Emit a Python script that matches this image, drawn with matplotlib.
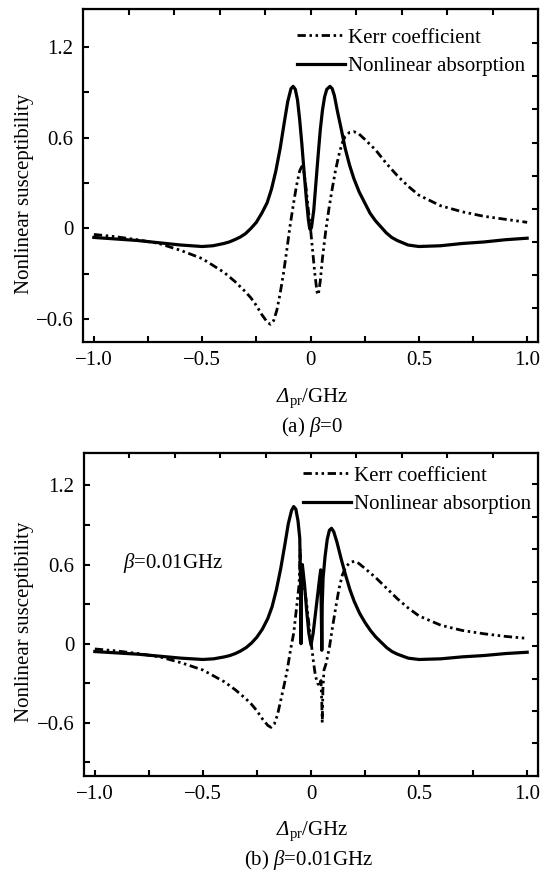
import matplotlib
matplotlib.use("Agg")
import matplotlib.pyplot as plt

plt.rcParams["font.family"] = ["Liberation Serif", "DejaVu Serif"]
plt.rcParams["mathtext.fontset"] = "custom"
plt.rcParams["mathtext.rm"] = "Liberation Serif"
plt.rcParams["mathtext.it"] = "Liberation Serif:italic"
plt.rcParams["font.size"] = 15

# panel (a): beta = 0
x_abs_a = [-1.0, -0.9, -0.8, -0.7, -0.6, -0.5, -0.45, -0.4, -0.375, -0.35, -0.325, -0.3, -0.275,
           -0.25, -0.225, -0.2, -0.18, -0.16, -0.14, -0.12, -0.105, -0.09, -0.08, -0.07,
           -0.06, -0.05, -0.04, -0.03, -0.02, -0.01, -0.004, 0.0, 0.005, 0.015, 0.025,
           0.035, 0.045, 0.055, 0.065, 0.075, 0.09, 0.1, 0.11, 0.125, 0.14, 0.16, 0.18,
           0.2, 0.225, 0.25, 0.275, 0.3, 0.325, 0.35, 0.375, 0.4, 0.45, 0.5, 0.6, 0.7,
           0.8, 0.9, 1.0]
abs_a = [-0.06, -0.07, -0.08, -0.095, -0.11, -0.12, -0.115, -0.10, -0.09, -0.075, -0.058, -0.035, 0.0,
         0.04, 0.10, 0.17, 0.26, 0.38, 0.53, 0.71, 0.84, 0.925, 0.94, 0.92,
         0.85, 0.72, 0.56, 0.38, 0.21, 0.06, 0.0, -0.01, 0.01, 0.12, 0.30,
         0.48, 0.65, 0.78, 0.87, 0.92, 0.94, 0.925, 0.88, 0.77, 0.67, 0.53, 0.42,
         0.33, 0.24, 0.17, 0.10, 0.05, 0.01, -0.03, -0.06, -0.08, -0.11, -0.12, -0.115, -0.10,
         -0.09, -0.075, -0.065]

x_kerr_a = [-1.0, -0.9, -0.8, -0.7, -0.6, -0.5, -0.4, -0.35, -0.3, -0.275, -0.25, -0.225,
            -0.2, -0.185, -0.17, -0.155, -0.14, -0.125, -0.11, -0.095, -0.08, -0.065, -0.05,
            -0.04, -0.03, -0.02, -0.01, 0.0, 0.01, 0.02, 0.03, 0.036, 0.045, 0.055, 0.07,
            0.085, 0.1, 0.115, 0.13, 0.145, 0.16, 0.18, 0.2, 0.22, 0.25, 0.275, 0.3, 0.35,
            0.4, 0.45, 0.5, 0.6, 0.7, 0.8, 0.9, 1.0]
kerr_a = [-0.04, -0.055, -0.075, -0.1, -0.145, -0.2, -0.29, -0.35, -0.42, -0.46, -0.51, -0.57,
          -0.62, -0.635, -0.61, -0.54, -0.43, -0.30, -0.15, 0.01, 0.15, 0.28, 0.38,
          0.41, 0.37, 0.26, 0.12, 0.0, -0.15, -0.30, -0.42, -0.44, -0.35, -0.20, -0.02,
          0.13, 0.26, 0.38, 0.48, 0.56, 0.61, 0.635, 0.64, 0.63, 0.59, 0.555, 0.52, 0.43,
          0.35, 0.28, 0.22, 0.15, 0.11, 0.08, 0.06, 0.04]

# panel (b): beta = 0.01 GHz
x_abs_b = [-1.0, -0.9, -0.8, -0.7, -0.6, -0.5, -0.45, -0.4, -0.375, -0.35, -0.325, -0.3, -0.275,
           -0.25, -0.225, -0.2, -0.18, -0.16, -0.14, -0.12, -0.105, -0.09, -0.08, -0.07,
           -0.06, -0.052, -0.048, -0.046, -0.044, -0.04, -0.03, -0.02, -0.01, 0.0, 0.01,
           0.02, 0.03, 0.04, 0.045, 0.048, 0.05, 0.052, 0.056, 0.065, 0.075, 0.085, 0.095,
           0.105, 0.12, 0.14, 0.16, 0.18, 0.2, 0.225, 0.25, 0.275, 0.3, 0.325, 0.35, 0.375,
           0.4, 0.45, 0.5, 0.6, 0.7, 0.8, 0.9, 1.0]
abs_b = [-0.06, -0.07, -0.08, -0.095, -0.11, -0.12, -0.115, -0.10, -0.09, -0.075, -0.055, -0.03, 0.005,
         0.05, 0.11, 0.19, 0.28, 0.41, 0.57, 0.76, 0.91, 1.01, 1.04, 1.02,
         0.93, 0.80, 0.40, 0.0, 0.55, 0.60, 0.45, 0.25, 0.08, -0.01, 0.08,
         0.22, 0.36, 0.50, 0.56, 0.20, -0.05, 0.30, 0.50, 0.66, 0.79, 0.86, 0.875,
         0.85, 0.77, 0.64, 0.52, 0.41, 0.32, 0.23, 0.16, 0.10, 0.05, 0.01, -0.03, -0.06,
         -0.08, -0.11, -0.12, -0.115, -0.10, -0.09, -0.075, -0.065]

x_kerr_b = [-1.0, -0.9, -0.8, -0.7, -0.6, -0.5, -0.4, -0.35, -0.3, -0.275, -0.25, -0.225,
            -0.2, -0.185, -0.17, -0.155, -0.14, -0.125, -0.11, -0.095, -0.08, -0.065, -0.055,
            -0.05, -0.048, -0.046, -0.044, -0.04, -0.03, -0.02, -0.01, 0.0, 0.01, 0.02, 0.03,
            0.04, 0.046, 0.05, 0.052, 0.055, 0.06, 0.07, 0.085, 0.1, 0.115, 0.13, 0.145,
            0.16, 0.18, 0.2, 0.22, 0.25, 0.275, 0.3, 0.35, 0.4, 0.45, 0.5, 0.6, 0.7, 0.8,
            0.9, 1.0]
kerr_b = [-0.04, -0.055, -0.075, -0.1, -0.145, -0.2, -0.29, -0.35, -0.42, -0.46, -0.51, -0.57,
          -0.62, -0.635, -0.61, -0.54, -0.43, -0.32, -0.20, -0.05, 0.08, 0.30, 0.45,
          0.72, 0.30, 0.55, 0.45, 0.50, 0.42, 0.30, 0.15, 0.02, -0.12, -0.24, -0.30,
          -0.32, -0.28, -0.45, -0.60, -0.35, -0.20, -0.15, -0.03, 0.13, 0.28, 0.42, 0.52,
          0.58, 0.615, 0.625, 0.61, 0.57, 0.535, 0.50, 0.42, 0.34, 0.27, 0.21, 0.14, 0.10, 0.075,
          0.055, 0.04]

x_ticks = [-1.0, -0.75, -0.5, -0.25, 0.0, 0.25, 0.5, 0.75, 1.0]
x_tick_labels = ["\u22121.0", "", "\u22120.5", "", "0", "", "0.5", "", "1.0"]
y_ticks = [-0.9, -0.6, -0.3, 0.0, 0.3, 0.6, 0.9, 1.2]
y_tick_labels = ["", "\u22120.6", "", "0", "", "0.6", "", "1.2"]

W, H = 553, 882
fig = plt.figure(figsize=(W / 100, H / 100), dpi=100)

kerr_style = (0, (3.0, 1.3, 0.9, 1.3, 0.9, 1.3))


def setup(ax, ylim, top_ticks, right_ticks):
    ax.set_xlim(-1.05, 1.05)
    ax.set_ylim(*ylim)
    ax.set_xticks(x_ticks)
    ax.set_xticklabels(x_tick_labels)
    yt = [t for t in y_ticks if ylim[0] <= t <= ylim[1]]
    ax.set_yticks(yt)
    ax.set_yticklabels([l for t, l in zip(y_ticks, y_tick_labels) if ylim[0] <= t <= ylim[1]])
    ax.tick_params(direction="in", length=4, width=1.5, pad=7, labelsize=15)
    for s in ax.spines.values():
        s.set_linewidth(1.6)
    top = ax.secondary_xaxis("top")
    top.set_xticks(top_ticks)
    top.tick_params(direction="in", length=4, width=1.5, labeltop=False)
    right = ax.secondary_yaxis("right")
    right.set_yticks(right_ticks)
    right.tick_params(direction="in", length=4, width=1.5, labelright=False)


def xlabel(xc, yc):
    # italic Delta followed by the subscript and unit
    fig.text((xc - 22) / W, 1 - yc / H, "\u0394", style="italic", ha="right", va="baseline")
    fig.text((xc - 22) / W, 1 - yc / H, r"${}_{\rm pr}$/GHz", ha="left", va="baseline")


leg_kw = dict(loc="upper left", frameon=False, borderpad=0, handlelength=2.3,
              handletextpad=0.15, labelspacing=0.42, fontsize=15)

# panel (a)
ax1 = fig.add_axes([83 / W, 1 - 341.7 / H, 455 / W, 332.4 / H])
ax1.plot(x_kerr_a, kerr_a, color="black", lw=2.0, linestyle=kerr_style, label="Kerr coefficient")
ax1.plot(x_abs_a, abs_a, color="black", lw=2.3, label="Nonlinear absorption")
setup(ax1, (-0.75, 1.45),
      [-0.84 + 0.21 * k for k in range(9)],
      [1.226 - 0.2195 * k for k in range(9)])
ax1.legend(bbox_to_anchor=(0.447, 0.975), **leg_kw)

# panel (b)
ax2 = fig.add_axes([84 / W, 1 - 775.5 / H, 454 / W, 323 / H])
ax2.plot(x_kerr_b, kerr_b, color="black", lw=2.0, linestyle=kerr_style, label="Kerr coefficient")
ax2.plot(x_abs_b, abs_b, color="black", lw=2.3, label="Nonlinear absorption")
setup(ax2, (-1.0, 1.45),
      [-0.84 + 0.21 * k for k in range(9)],
      [1.208 - 0.2455 * k for k in range(9)])
ax2.legend(bbox_to_anchor=(0.46, 0.99), **leg_kw)
ax2.text(-0.87, 0.615, r"$\beta$=0.01GHz", ha="left", va="center", fontsize=15)

# axis labels and captions
fig.text(25 / W, 1 - 194 / H, "Nonlinear susceptibility", rotation=90, ha="center", va="center")
fig.text(25 / W, 1 - 622 / H, "Nonlinear susceptibility", rotation=90, ha="center", va="center")
xlabel(311, 402)
xlabel(311, 835)
fig.text(312 / W, 1 - 427 / H, r"(a) $\beta$=0", ha="center", va="center")
fig.text(309 / W, 1 - 860 / H, r"(b) $\beta$=0.01GHz", ha="center", va="center")

fig.savefig("out.png", dpi=100)
